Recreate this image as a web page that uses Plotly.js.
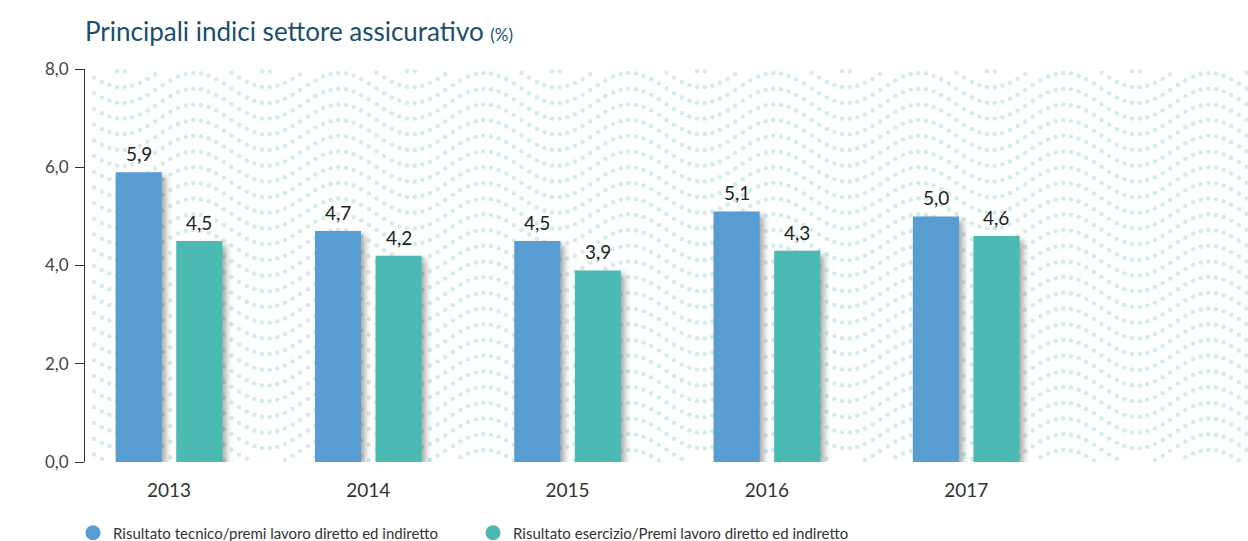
<!DOCTYPE html>
<html>
<head>
<meta charset="utf-8">
<script src="https://cdn.plot.ly/plotly-3.0.1.min.js"></script>
<style>
  html, body { margin: 0; padding: 0; background: #fff; }
  #chart { width: 1248px; height: 541px; }
  .barlayer .point path { filter: drop-shadow(4px 4px 3px rgba(0,0,0,0.35)); }
</style>
</head>
<body>
<div id="chart"></div>
<script>
// ---- data ----
const years = ['2013', '2014', '2015', '2016', '2017'];
const tecnico = [5.9, 4.7, 4.5, 5.1, 5.0];
const esercizio = [4.5, 4.2, 3.9, 4.3, 4.6];
const seriesNames = ['Risultato tecnico/premi lavoro diretto ed indiretto',
                     'Risultato esercizio/Premi lavoro diretto ed indiretto'];
const yTicks = [0, 2, 4, 6, 8];

// ---- styling ----
const W = 1248, H = 541;
const M = { l: 85, r: 0, t: 69, b: 79 };
const colors = ['#579dd1', '#4abab3'];
const FONT = 'Lato, "Noto Sans", sans-serif';
const bargap = 0.392, bargroupgap = 0.24;

// decorative wavy dotted background (plot-area sized SVG)
function patternSVG() {
  const pw = W - M.l - M.r, ph = H - M.t - M.b;
  const period = 145, dx = period / 19, amp = 15, rowGap = 15.7;
  let s = `<svg xmlns="http://www.w3.org/2000/svg" width="${pw}" height="${ph}" viewBox="0 0 ${pw} ${ph}">`;
  for (let r = -3; r < ph / rowGap + 3; r++) {
    const cy0 = 3.3 + r * rowGap;
    for (let k = 0; k * dx < pw + dx; k++) {
      const px = 1.5 + k * dx;
      if (px < 2) continue;
      const absX = px + M.l;
      const cy = cy0 + amp * Math.cos(2 * Math.PI * (absX - 267) / period);
      if (cy < 1.5 || cy > ph - 1.5) continue;
      s += `<circle cx="${px.toFixed(1)}" cy="${cy.toFixed(1)}" r="2.25" fill="#d4ecea"/>`;
    }
  }
  s += '</svg>';
  return 'data:image/svg+xml;charset=utf-8,' + encodeURIComponent(s);
}

const slot = (1 - bargap) / 2;
const traces = [
  { type: 'bar', x: years, y: tecnico, name: seriesNames[0], marker: { color: colors[0] }, showlegend: false, hoverinfo: 'x+y' },
  { type: 'bar', x: years, y: esercizio, name: seriesNames[1], marker: { color: colors[1] }, showlegend: false, hoverinfo: 'x+y' },
  // legend entries with round markers
  { type: 'scatter', mode: 'markers', x: [null], y: [null], name: seriesNames[0], marker: { color: colors[0], size: 15, symbol: 'circle' }, showlegend: true },
  { type: 'scatter', mode: 'markers', x: [null], y: [null], name: seriesNames[1], marker: { color: colors[1], size: 15, symbol: 'circle' }, showlegend: true }
];

const fmt = v => v.toFixed(1).replace('.', ',');
const annotations = [];
[tecnico, esercizio].forEach((arr, s) => {
  arr.forEach((v, i) => {
    annotations.push({
      xref: 'x', yref: 'y', x: i + (s === 0 ? -slot / 2 : slot / 2), y: v,
      text: fmt(v), showarrow: false, yanchor: 'bottom', yshift: 5,
      font: { family: FONT, size: 19, color: '#222' }
    });
  });
});

const layout = {
  width: W, height: H,
  margin: M,
  paper_bgcolor: '#fff', plot_bgcolor: 'rgba(0,0,0,0)',
  separators: ',.',
  font: { family: FONT, color: '#333' },
  title: {
    text: 'Principali indici settore assicurativo <span style="font-size:17px">(%)</span>',
    x: 85 / W, xref: 'container', xanchor: 'left',
    y: 1 - 32 / H, yref: 'container', yanchor: 'middle',
    font: { family: FONT, size: 26, color: '#1a4f6d' }
  },
  barmode: 'group', bargap: bargap, bargroupgap: bargroupgap,
  xaxis: {
    type: 'category', range: [-0.4215, 5.414], fixedrange: true,
    showline: false, showgrid: false, zeroline: false,
    ticks: 'outside', ticklen: 11, tickcolor: 'rgba(0,0,0,0)',
    tickfont: { family: FONT, size: 19, color: '#333' }
  },
  yaxis: {
    range: [0, 8], tickvals: yTicks, tickformat: '.1f', fixedrange: true,
    showline: true, linecolor: '#333', linewidth: 1,
    ticks: 'outside', ticklen: 9, tickcolor: '#333', tickwidth: 1,
    showgrid: false, zeroline: false, ticklabelstandoff: 3,
    tickfont: { family: FONT, size: 17, color: '#444' }
  },
  legend: {
    orientation: 'h', xref: 'container', x: 73 / W, xanchor: 'left',
    yref: 'container', y: (H - 533) / H, yanchor: 'middle',
    entrywidth: 355, entrywidthmode: 'pixels', itemclick: false, itemdoubleclick: false,
    font: { family: FONT, size: 15, color: '#333' }, bgcolor: 'rgba(0,0,0,0)'
  },
  images: [{
    source: patternSVG(), xref: 'paper', yref: 'paper', x: 0, y: 1, sizex: 1, sizey: 1,
    xanchor: 'left', yanchor: 'top', sizing: 'stretch', layer: 'below'
  }],
  annotations: annotations
};

Plotly.newPlot('chart', traces, layout, { displayModeBar: false, staticPlot: false });
</script>
</body>
</html>
